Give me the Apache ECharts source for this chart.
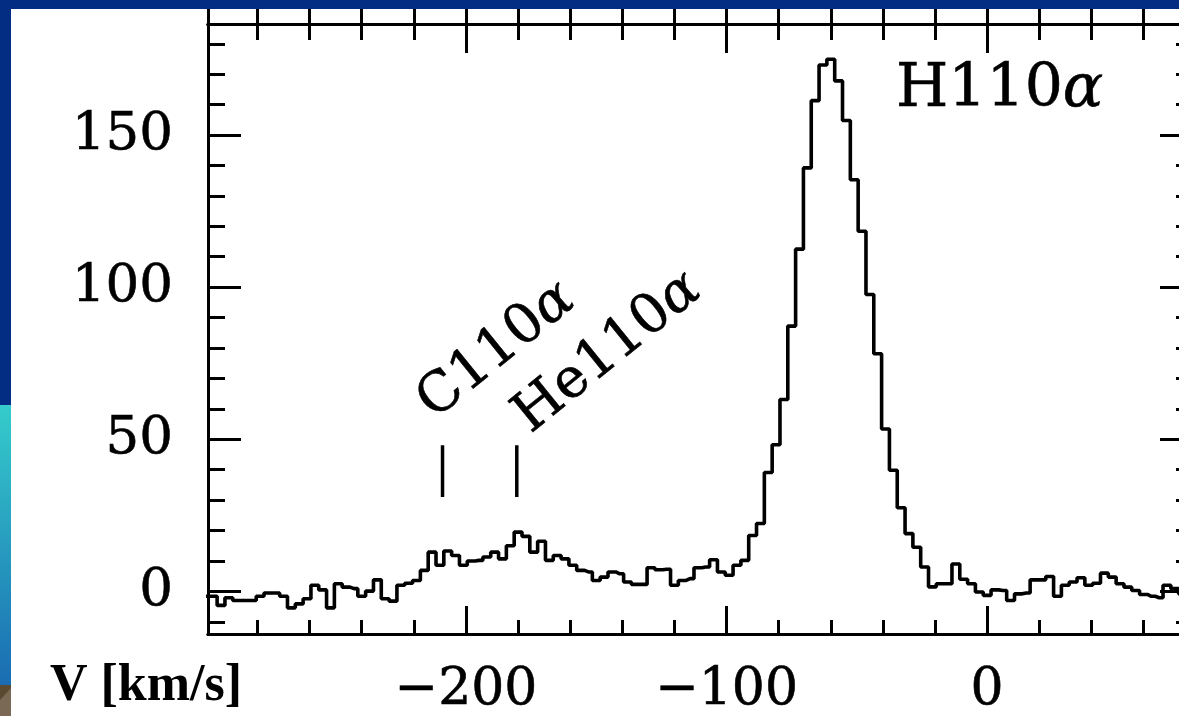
<!DOCTYPE html>
<html><head><meta charset="utf-8">
<script src="https://cdn.jsdelivr.net/npm/echarts@6/dist/echarts.min.js"></script>
<style>html,body{margin:0;padding:0;background:#fff}#c{width:1179px;height:716px}</style>
</head><body><div id="c"></div>
<script>
// Channel centre velocities (km/s)
const velocity = [-300,-297,-294,-291,-288,-285,-282,-279,-276,-273,-270,-267,-264,-261,-258,-255,-252,-249,-246,-243,
  -240,-237,-234,-231,-228,-225,-222,-219,-216,-213,-210,-207,-204,-201,-198,-195,-192,-189,-186,-183,
  -180,-177,-174,-171,-168,-165,-162,-159,-156,-153,-150,-147,-144,-141,-138,-135,-132,-129,-126,-123,
  -120,-117,-114,-111,-108,-105,-102,-99,-96,-93,-90,-87,-84,-81,-78,-75,-72,-69,-66,-63,
  -60,-57,-54,-51,-48,-45,-42,-39,-36,-33,-30,-27,-24,-21,-18,-15,-12,-9,-6,-3,
  0,3,6,9,12,15,18,21,24,27,30,33,36,39,42,45,48,51,54,57,
  60,63,66,69,72,75,78];
// Line intensity per channel
const intensity = [-1.6,-1.6,-4.6,-2.1,-3.0,-3.0,-3.0,-1.6,-0.5,-0.5,-1.6,-5.4,-4.1,-2.4,2.0,0.5,-5.4,2.5,1.4,0.9,
  -1.6,0.1,3.8,-2.4,-3.2,2.0,2.7,3.6,6.9,12.9,8.6,13.3,11.8,8.6,10.0,10.2,11.3,12.9,10.7,15.0,
  19.5,18.1,12.9,16.5,10.2,11.8,10.7,8.6,6.9,6.4,3.6,4.7,6.4,5.8,3.1,2.3,2.3,7.8,7.1,7.3,
  2.0,3.6,4.2,7.8,8.0,10.4,6.4,5.3,8.6,10.2,18.4,22.3,39.1,48.2,63.1,87.2,112.5,139.2,161.3,173.0,
  174.9,167.8,154.8,135.3,118.4,97.6,78.1,53.4,39.8,27.5,19.0,14.5,8.0,1.5,2.5,2.5,9.0,4.0,2.5,-0.2,
  -1.3,0.5,0.3,-3.0,-0.8,-0.5,3.8,3.8,4.9,-1.6,2.0,3.1,4.5,2.0,2.7,6.0,4.7,2.5,1.4,0.3,
  -1.0,-1.6,-2.1,2.0,0.9,-0.8,-1.0];
const xMajorTicks = [-200, -100, 0];
const xMinorTicks = [-280,-260,-240,-220,-180,-160,-140,-120,-80,-60,-40,-20,20,40,60];
const yMajorTicks = [0, 50, 100, 150];
const yMinorTicks = [-10,10,20,30,40,60,70,80,90,110,120,130,140,160,170,180];
const lineNames = ['C110α', 'He110α'];
const lineRestVelocity = [-209, -180.5];
const markerSpan = [31, 48];
const panelLabel = 'H110α';
const axisTitle = 'V [km/s]';

const X_MIN = -299, X_MAX = 79, Y_MIN = -14, Y_MAX = 186.5;
const FONT = 'DejaVu Serif';
const ink = '#000';
const heavy = { textBorderColor: ink, textBorderWidth: 0.6 };

function xAx(o) {
  return Object.assign({
    type: 'value', min: X_MIN, max: X_MAX, gridIndex: 0,
    axisLine: { show: true, onZero: false, lineStyle: { color: ink, width: 3 } },
    splitLine: { show: false },
    axisLabel: { show: false },
    axisTick: { show: false }
  }, o);
}
function yAx(o) {
  return Object.assign({
    type: 'value', min: Y_MIN, max: Y_MAX, gridIndex: 0,
    axisLine: { show: true, onZero: false, lineStyle: { color: ink, width: 3 } },
    splitLine: { show: false },
    axisLabel: { show: false },
    axisTick: { show: false }
  }, o);
}
function ticks(vals, len) {
  return { show: true, inside: true, length: len, customValues: vals, lineStyle: { color: ink, width: 3 } };
}
const allX = xMajorTicks.concat(xMinorTicks);
function richAt(size) {
  return {
    n: Object.assign({ fontFamily: FONT, fontSize: size, color: ink, fontWeight: 'normal' }, heavy),
    a: Object.assign({ fontFamily: FONT, fontSize: size, color: ink, fontStyle: 'italic', fontWeight: 'normal' }, heavy)
  };
}
function greek(s) { return s.replace(/α/g, '{a|α}').replace(/^([^{]+)/, '{n|$1}'); }

const option = {
  backgroundColor: '#fff',
  animation: false,
  grid: [
    { left: 208, top: 24, width: 985, height: 610, outerBoundsMode: 'none', containLabel: false },
    { left: 208, top: -100, width: 985, height: 124, outerBoundsMode: 'none', containLabel: false }
  ],
  title: [
    { text: axisTitle, left: 45, top: 656, textStyle: { fontFamily: 'Liberation Serif', fontWeight: 'bold', fontSize: 52, color: ink } },
    { text: greek(panelLabel), left: 891, top: 55, textStyle: { fontWeight: 'normal', rich: richAt(60) } }
  ],
  xAxis: [
    xAx({ position: 'bottom', axisTick: ticks(xMajorTicks, 28),
      axisLabel: Object.assign({ show: true, customValues: xMajorTicks, margin: 30, fontFamily: FONT, fontSize: 52, color: ink,
        formatter: v => String(v).replace('-', '\u2212') }, heavy) }),
    xAx({ position: 'bottom', axisTick: ticks(xMinorTicks, 14) }),
    xAx({ position: 'top', axisTick: ticks(xMajorTicks, 29) }),
    xAx({ position: 'top', axisTick: ticks(xMinorTicks, 16) }),
    xAx({ gridIndex: 1, position: 'bottom', axisTick: ticks(allX, 16) })
  ],
  yAxis: [
    yAx({ position: 'left', axisTick: ticks(yMajorTicks, 33),
      axisLabel: Object.assign({ show: true, customValues: yMajorTicks, margin: 35, fontFamily: FONT, fontSize: 53, color: ink }, heavy) }),
    yAx({ position: 'left', axisTick: ticks(yMinorTicks, 17) }),
    yAx({ position: 'right', axisTick: ticks(yMajorTicks, 33) }),
    yAx({ position: 'right', axisTick: ticks(yMinorTicks, 17) }),
    yAx({ gridIndex: 1, position: 'left', min: 0, max: 1 }),
    yAx({ gridIndex: 1, position: 'right', min: 0, max: 1 })
  ],
  series: [
    {
      type: 'line', step: 'middle', xAxisIndex: 0, yAxisIndex: 0,
      data: velocity.map((v, i) => [v, intensity[i]]),
      showSymbol: false, clip: true,
      lineStyle: { color: ink, width: 3.6 }, z: 5
    }
  ].concat(lineRestVelocity.map(v => ({
      type: 'line', xAxisIndex: 0, yAxisIndex: 0, showSymbol: false,
      data: [[v, markerSpan[0]], [v, markerSpan[1]]],
      lineStyle: { color: ink, width: 3.5 }
    }))).concat([{
      type: 'scatter', xAxisIndex: 0, yAxisIndex: 0, symbolSize: 0,
      itemStyle: { opacity: 1, color: ink },
      data: [
        { value: [-209, 53], name: lineNames[0] },
        { value: [-172, 48.4], name: lineNames[1] }
      ],
      label: { show: true, position: [0, 0], align: 'left', verticalAlign: 'bottom', rotate: 39, color: ink, opacity: 1,
        formatter: p => greek(p.name), rich: richAt(55) }
    }]),
  graphic: [
    { type: 'rect', z: 100, shape: { x: 0, y: 0, width: 1179, height: 9 }, style: { fill: '#032c83' } },
    { type: 'rect', z: 100, shape: { x: 0, y: 0, width: 11, height: 405 }, style: { fill: '#032c83' } },
    { type: 'rect', z: 100, shape: { x: 0, y: 405, width: 11, height: 280 }, style: {
        fill: new echarts.graphic.LinearGradient(0, 0, 0, 1, [{ offset: 0, color: '#35cccc' }, { offset: 1, color: '#1a6cb2' }]) } },
    { type: 'rect', z: 100, shape: { x: 0, y: 685, width: 11, height: 31 }, style: { fill: '#5b4a32' } },
    { type: 'polygon', z: 101, shape: { points: [[0, 700], [11, 688], [11, 716], [0, 716]] }, style: { fill: '#7a6a55' } }
  ]
};
const chart = echarts.init(document.getElementById('c'), null, { renderer: 'canvas' });
chart.setOption(option);
</script></body></html>
